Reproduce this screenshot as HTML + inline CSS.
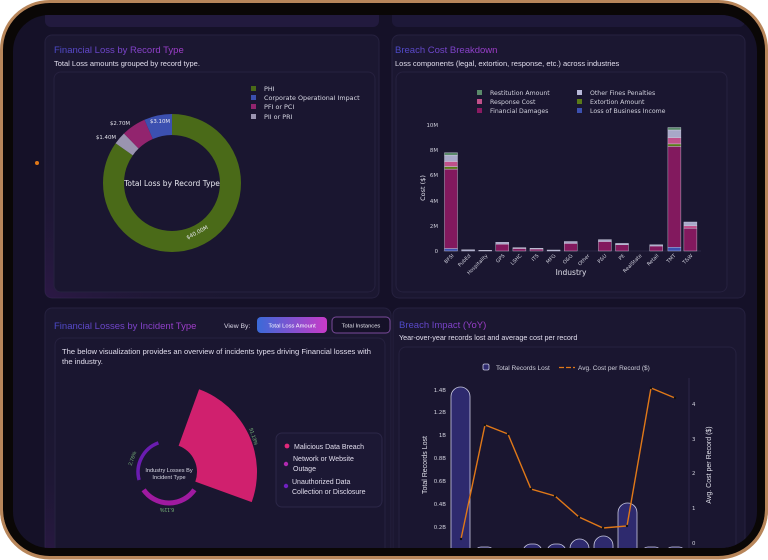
<!DOCTYPE html>
<html><head><meta charset="utf-8"><style>
html,body{margin:0;padding:0;background:#fff;width:768px;height:560px;overflow:hidden}
svg{display:block;font-family:"Liberation Sans",sans-serif}
</style></head><body>
<svg width="768" height="560" viewBox="0 0 768 560" xmlns="http://www.w3.org/2000/svg">
<defs>
<linearGradient id="tg" x1="0" x2="1" y1="0" y2="0"><stop offset="0" stop-color="#4a4ac8"/><stop offset="1" stop-color="#a23cc8"/></linearGradient>
<linearGradient id="btn" x1="0" x2="1"><stop offset="0" stop-color="#3a6ad8"/><stop offset="1" stop-color="#c83ac8"/></linearGradient>
<radialGradient id="glow1" cx="0" cy="1" r="0.6"><stop offset="0" stop-color="#4a1a6a" stop-opacity="0.35"/><stop offset="1" stop-color="#1b1731" stop-opacity="0"/></radialGradient>
<clipPath id="scr"><rect x="13" y="15" width="744" height="533" rx="36"/></clipPath>
</defs>
<!-- frame -->
<rect x="215" y="0" width="80" height="6" fill="#b8865a"/>
<rect x="510" y="0" width="140" height="6" fill="#b8865a"/>
<rect x="1.5" y="1.5" width="765" height="556" rx="48" fill="#0a0706" stroke="#b8865a" stroke-width="3"/>
<rect x="13" y="15" width="744" height="533" rx="36" fill="#151128"/>
<g clip-path="url(#scr)">
<rect x="45" y="8" width="334" height="19" rx="6" fill="#221a3e"/>
<rect x="392" y="8" width="353" height="19" rx="6" fill="#1d1838"/>
<circle cx="37" cy="163" r="2" fill="#e07818"/>
<!-- card1 -->
<rect x="45" y="35" width="334" height="263" rx="7" fill="#1b1731" stroke="#26213f"/>
<rect x="45" y="35" width="334" height="263" rx="7" fill="url(#glow1)"/>
<text x="54" y="53" font-size="9.5" fill="url(#tg)">Financial Loss by Record Type</text>
<text x="54" y="66" font-size="7.5" fill="#e0dcec">Total Loss amounts grouped by record type.</text>
<rect x="54" y="72" width="321" height="220" rx="7" fill="#1a1630" stroke="#26213f"/>
<g transform="rotate(-90 172 183)" fill="none" stroke-width="21">
<circle cx="172" cy="183" r="58.5" stroke="#4a6a18" stroke-dasharray="311.5 367.6"/>
<circle cx="172" cy="183" r="58.5" stroke="#9a94b0" stroke-dasharray="0 311.5 10.9 400"/>
<circle cx="172" cy="183" r="58.5" stroke="#92246e" stroke-dasharray="0 322.4 21 400"/>
<circle cx="172" cy="183" r="58.5" stroke="#3c50b0" stroke-dasharray="0 343.4 24.2 400"/>
</g>
<text x="172" y="186" font-size="7.5" fill="#e8e8f0" text-anchor="middle" font-family="DejaVu Sans">Total Loss by Record Type</text>
<text x="160" y="123" font-size="5.4" fill="#e8e8f0" text-anchor="middle" font-family="DejaVu Sans">$3.10M</text>
<text x="120" y="125" font-size="5.4" fill="#e0e0e8" text-anchor="middle" font-family="DejaVu Sans">$2.70M</text>
<text x="106" y="139" font-size="5.4" fill="#e0e0e8" text-anchor="middle" font-family="DejaVu Sans">$1.40M</text>
<text x="198" y="234" font-size="5.4" fill="#e8e8f0" text-anchor="middle" font-family="DejaVu Sans" transform="rotate(-28 198 234)">$40.00M</text>
<g font-size="6.4" fill="#d8d8e4" font-family="DejaVu Sans">
<rect x="251" y="86" width="5" height="5" fill="#4a6a18"/><text x="264" y="91">PHI</text>
<rect x="251" y="95" width="5" height="5" fill="#3c50b0"/><text x="264" y="100">Corporate Operational Impact</text>
<rect x="251" y="104" width="5" height="5" fill="#92246e"/><text x="264" y="109">PFI or PCI</text>
<rect x="251" y="114" width="5" height="5" fill="#9a94b0"/><text x="264" y="119">PII or PRI</text>
</g>
<!-- card2 -->
<rect x="392" y="35" width="353" height="263" rx="7" fill="#1b1731" stroke="#26213f"/>
<text x="395" y="53" font-size="9.5" fill="url(#tg)">Breach Cost Breakdown</text>
<text x="395" y="66" font-size="7.5" fill="#e0dcec">Loss components (legal, extortion, response, etc.) across industries</text>
<rect x="396" y="72" width="331" height="220" rx="7" fill="#1a1630" stroke="#26213f"/>
<g font-size="6.2" fill="#d0d0dc" font-family="DejaVu Sans">
<rect x="477" y="90" width="5" height="5" fill="#5a8a6a"/><text x="490" y="95">Restitution Amount</text>
<rect x="477" y="99" width="5" height="5" fill="#c0508a"/><text x="490" y="104">Response Cost</text>
<rect x="477" y="108" width="5" height="5" fill="#8a1a62"/><text x="490" y="113">Financial Damages</text>
<rect x="577" y="90" width="5" height="5" fill="#b8b8d8"/><text x="590" y="95">Other Fines Penalties</text>
<rect x="577" y="99" width="5" height="5" fill="#5a7a18"/><text x="590" y="104">Extortion Amount</text>
<rect x="577" y="108" width="5" height="5" fill="#3c50b0"/><text x="590" y="113">Loss of Business Income</text>
</g>
<g font-size="5.4" fill="#d0d0dc" text-anchor="end" font-family="DejaVu Sans">
<text x="438" y="127">10M</text><text x="438" y="152">8M</text><text x="438" y="177">6M</text><text x="438" y="203">4M</text><text x="438" y="228">2M</text><text x="438" y="253">0</text>
</g>
<text x="425" y="188" font-size="6.5" fill="#e0e0ea" text-anchor="middle" transform="rotate(-90 425 188)" font-family="DejaVu Sans">Cost ($)</text>
<line x1="443" y1="251" x2="701" y2="251" stroke="#3a3458" stroke-width="0.6"/>
<g stroke="#d0d0e0" stroke-width="0.4">
<rect x="444.5" y="248.5" width="13" height="2.5" fill="#3c50b0"/>
<rect x="444.5" y="169.1" width="13" height="79.4" fill="#82195e"/>
<rect x="444.5" y="166.6" width="13" height="2.5" fill="#5a7a18"/>
<rect x="444.5" y="161.5" width="13" height="5" fill="#c0508a"/>
<rect x="444.5" y="155.2" width="13" height="6.3" fill="#a8a8c8"/>
<rect x="444.5" y="152.7" width="13" height="2.5" fill="#5a8a6a"/>
<rect x="667.9" y="247.2" width="13" height="3.8" fill="#3c50b0"/>
<rect x="667.9" y="146.4" width="13" height="100.8" fill="#82195e"/>
<rect x="667.9" y="143.9" width="13" height="2.5" fill="#5a7a18"/>
<rect x="667.9" y="137.6" width="13" height="6.3" fill="#c0508a"/>
<rect x="667.9" y="130" width="13" height="7.6" fill="#a8a8c8"/>
<rect x="667.9" y="127.5" width="13" height="2.5" fill="#5a8a6a"/>
<rect x="683.9" y="228.3" width="13" height="22.7" fill="#82195e"/>
<rect x="683.9" y="225.8" width="13" height="2.5" fill="#c0508a"/>
<rect x="683.9" y="222" width="13" height="3.8" fill="#a8a8c8"/>
<rect x="461.6" y="249.7" width="13" height="1.3" fill="#a8a8c8"/>
<rect x="478.7" y="250.3" width="13" height="0.7" fill="#a8a8c8"/>
<rect x="495.8" y="244.1" width="13" height="6.9" fill="#82195e"/>
<rect x="495.8" y="242.2" width="13" height="1.9" fill="#a8a8c8"/>
<rect x="512.9" y="248.5" width="13" height="2.5" fill="#82195e"/>
<rect x="512.9" y="247.6" width="13" height="0.9" fill="#a8a8c8"/>
<rect x="530" y="249" width="13" height="2" fill="#82195e"/>
<rect x="530" y="248.2" width="13" height="0.8" fill="#a8a8c8"/>
<rect x="547.1" y="250" width="13" height="1" fill="#a8a8c8"/>
<rect x="564.2" y="243.4" width="13" height="7.6" fill="#82195e"/>
<rect x="564.2" y="241.5" width="13" height="1.9" fill="#a8a8c8"/>
<rect x="598.4" y="241.5" width="13" height="9.5" fill="#82195e"/>
<rect x="598.4" y="239.6" width="13" height="1.9" fill="#a8a8c8"/>
<rect x="615.5" y="244.7" width="13" height="6.3" fill="#82195e"/>
<rect x="615.5" y="243.4" width="13" height="1.3" fill="#a8a8c8"/>
<rect x="649.7" y="246" width="13" height="5" fill="#82195e"/>
<rect x="649.7" y="244.7" width="13" height="1.3" fill="#a8a8c8"/>
</g>
<g font-size="5" fill="#d0d0dc" text-anchor="end" font-family="DejaVu Sans">
<text transform="translate(454 256) rotate(-45)">BFSI</text>
<text transform="translate(471 256) rotate(-45)">PubEd</text>
<text transform="translate(488 256) rotate(-45)">Hospitality</text>
<text transform="translate(505 256) rotate(-45)">GPS</text>
<text transform="translate(522 256) rotate(-45)">LSHC</text>
<text transform="translate(539 256) rotate(-45)">ITS</text>
<text transform="translate(556 256) rotate(-45)">MFG</text>
<text transform="translate(573 256) rotate(-45)">O&amp;G</text>
<text transform="translate(590 256) rotate(-45)">Other</text>
<text transform="translate(607 256) rotate(-45)">P&amp;U</text>
<text transform="translate(625 256) rotate(-45)">PE</text>
<text transform="translate(642 256) rotate(-45)">RealState</text>
<text transform="translate(659 256) rotate(-45)">Retail</text>
<text transform="translate(676 256) rotate(-45)">TMT</text>
<text transform="translate(693 256) rotate(-45)">T&amp;W</text>
</g>
<text x="571" y="275" font-size="7.5" fill="#e0e0ea" text-anchor="middle" font-family="DejaVu Sans">Industry</text>
<!-- card3 -->
<rect x="45" y="308" width="346" height="260" rx="7" fill="#1b1731" stroke="#26213f"/>
<rect x="45" y="308" width="346" height="260" rx="7" fill="url(#glow1)"/>
<text x="54" y="329" font-size="9.5" fill="url(#tg)">Financial Losses by Incident Type</text>
<text x="224" y="328" font-size="6.8" fill="#d8d4e4">View By:</text>
<rect x="257" y="317" width="70" height="16" rx="4" fill="url(#btn)"/>
<text x="292" y="327.5" font-size="5.8" fill="#fff" text-anchor="middle">Total Loss Amount</text>
<rect x="332" y="317" width="58" height="16" rx="4" fill="#151128" stroke="#7a4a9a"/>
<text x="361" y="327.5" font-size="5.8" fill="#e8e8f0" text-anchor="middle">Total Instances</text>
<rect x="55" y="338" width="330" height="230" rx="7" fill="#1a1630" stroke="#26213f"/>
<text x="62" y="354" font-size="7.6" fill="#e0dcec">The below visualization provides an overview of incidents types driving Financial losses with</text>
<text x="62" y="364" font-size="7.6" fill="#e0dcec">the industry.</text>
<path d="M199.1 389.3 A88 88 0 0 1 251.7 502.1 L195.3 481.6 A28 28 0 0 0 178.6 445.7 Z" fill="#d0206e"/>
<path d="M194.4 489.8 A31 31 0 0 1 143.6 489.8" fill="none" stroke="#a01aa0" stroke-width="5"/>
<path d="M139.1 480 A31 31 0 0 1 158.4 442.9" fill="none" stroke="#6a1cb0" stroke-width="3.5"/>
<text x="169" y="472" font-size="5.6" fill="#d8d8e4" text-anchor="middle">Industry Losses By</text>
<text x="169" y="479" font-size="5.6" fill="#d8d8e4" text-anchor="middle">Incident Type</text>
<text transform="translate(252 437) rotate(72)" font-size="5.2" fill="#7ab87a" text-anchor="middle">91.13%</text>
<text transform="translate(167 508) rotate(180)" font-size="5.2" fill="#7ab87a" text-anchor="middle">6.11%</text>
<text transform="translate(134 459) rotate(-70)" font-size="5.2" fill="#7ab87a" text-anchor="middle">2.76%</text>
<rect x="276" y="433" width="106" height="74" rx="6" fill="#1c1834" stroke="#2c2748"/>
<g font-size="7" fill="#e0dcec">
<circle cx="287" cy="446" r="2.4" fill="#e0287a"/><text x="294" y="449">Malicious Data Breach</text>
<circle cx="286" cy="464" r="2.2" fill="#b02ab0"/><text x="293" y="461">Network or Website</text><text x="293" y="471">Outage</text>
<circle cx="286" cy="486" r="2.2" fill="#7020c0"/><text x="292" y="484">Unauthorized Data</text><text x="292" y="494">Collection or Disclosure</text>
</g>
<!-- card4 -->
<rect x="393" y="308" width="352" height="260" rx="7" fill="#1b1731" stroke="#26213f"/>
<text x="399" y="328" font-size="9.5" fill="url(#tg)">Breach Impact (YoY)</text>
<text x="399" y="340" font-size="7.2" fill="#e0dcec">Year-over-year records lost and average cost per record</text>
<rect x="399" y="347" width="337" height="220" rx="7" fill="#1a1630" stroke="#26213f"/>
<rect x="483" y="364" width="6" height="6" rx="1.5" fill="#2e2a6e" stroke="#c8c8e0" stroke-width="0.8"/>
<text x="496" y="370" font-size="6.5" fill="#d0d0dc">Total Records Lost</text>
<line x1="559" y1="367.5" x2="575" y2="367.5" stroke="#e07818" stroke-width="1.3" stroke-dasharray="5 2"/>
<text x="578" y="370" font-size="6.5" fill="#d0d0dc">Avg. Cost per Record ($)</text>
<g font-size="5.4" fill="#d0d0dc" text-anchor="end" font-family="DejaVu Sans">
<text x="446" y="392">1.4B</text><text x="446" y="414">1.2B</text><text x="446" y="437">1B</text><text x="446" y="460">0.8B</text><text x="446" y="483">0.6B</text><text x="446" y="506">0.4B</text><text x="446" y="529">0.2B</text>
</g>
<text x="427" y="465" font-size="7" fill="#e0e0ea" text-anchor="middle" transform="rotate(-90 427 465)">Total Records Lost</text>
<line x1="689" y1="378" x2="689" y2="548" stroke="#3a3458" stroke-width="0.6"/>
<g font-size="5.4" fill="#d0d0dc" font-family="DejaVu Sans">
<text x="692" y="406">4</text><text x="692" y="441">3</text><text x="692" y="475">2</text><text x="692" y="510">1</text><text x="692" y="545">0</text>
</g>
<text x="711" y="465" font-size="7" fill="#e0e0ea" text-anchor="middle" transform="rotate(-90 711 465)">Avg. Cost per Record ($)</text>
<g fill="#2e2a6e" stroke="#c8c8e0" stroke-width="0.8">
<rect x="451" y="387" width="19" height="180" rx="9.5"/>
<rect x="475" y="547" width="19" height="20" rx="6"/>
<rect x="523" y="544" width="19" height="20" rx="8"/>
<rect x="547" y="544" width="19" height="20" rx="8"/>
<rect x="570" y="539" width="19" height="30" rx="9.5"/>
<rect x="594" y="536" width="19" height="30" rx="9.5"/>
<rect x="618" y="503" width="19" height="70" rx="9.5"/>
<rect x="642" y="547" width="19" height="20" rx="6"/>
<rect x="666" y="547" width="19" height="20" rx="6"/>
</g>
<polyline points="461,539 485,425 508,434 531,489 555,496 579,517 603,528 627,526 651,388 675,398" fill="none" stroke="#e07818" stroke-width="1.4"/>
<g fill="#111">
<circle cx="461" cy="539" r="1.2"/><circle cx="485" cy="425" r="1.2"/><circle cx="508" cy="434" r="1.2"/><circle cx="531" cy="489" r="1.2"/><circle cx="555" cy="496" r="1.2"/><circle cx="579" cy="517" r="1.2"/><circle cx="603" cy="528" r="1.2"/><circle cx="627" cy="526" r="1.2"/><circle cx="651" cy="388" r="1.2"/><circle cx="675" cy="398" r="1.2"/>
</g>
</g>
<path d="M0 540 L0 560 L40 560 A48 48 0 0 1 0 520 Z M768 540 L768 560 L728 560 A48 48 0 0 0 768 520 Z" fill="#fff"/>
<path d="M1.5 500 L1.5 510 A48 48 0 0 0 49.5 558 L718.5 558 A48 48 0 0 0 766.5 510 L766.5 500" fill="none" stroke="#b8865a" stroke-width="3"/>
</svg>
</body></html>
